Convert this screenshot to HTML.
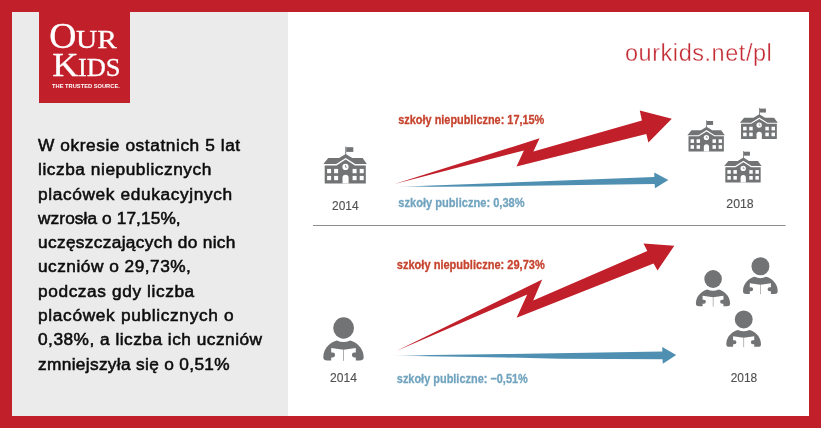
<!DOCTYPE html>
<html lang="pl">
<head>
<meta charset="utf-8">
<title>Our Kids – szkoły niepubliczne</title>
<style>
html,body{margin:0;padding:0;}
body{width:821px;height:428px;overflow:hidden;background:#c1202a;position:relative;font-family:"Liberation Sans",sans-serif;}
#left{position:absolute;left:12px;top:12px;width:276px;height:404px;background:#ebebeb;}
#right{position:absolute;left:288px;top:12px;width:521px;height:404px;background:#fff;}
#logo{position:absolute;left:39px;top:0;width:91px;height:103px;background:#c1202a;color:#fff;}
#logo .l1,#logo .l2{-webkit-text-stroke:0.3px #fff;position:absolute;white-space:nowrap;font-family:"Liberation Serif",serif;line-height:1;}
#logo .big{font-size:35.5px;display:inline-block;transform:scaleX(1.06);transform-origin:50% 100%;}
#logo .sm{font-size:24.5px;display:inline-block;transform-origin:0 100%;}
#logo .l1{left:11px;top:19.3px;}
#logo .l1 .sm{transform:scaleX(1.2);margin-left:0.5px;}
#logo .l2{left:13.8px;top:47.2px;}
#logo .l2 .big{font-size:34.4px;}
#logo .l2 .sm{font-size:25.4px;transform:scaleX(1.04);margin-left:0.3px;}
#logo .tag{position:absolute;left:13.3px;top:83.5px;font-size:6px;font-weight:bold;white-space:nowrap;line-height:1;transform:scale(0.955,0.88);transform-origin:0 0;}
#para{position:absolute;left:38px;top:133.1px;margin:0;font-size:17.3px;line-height:24.29px;color:#0c0c0c;white-space:nowrap;-webkit-text-stroke:0.55px #0c0c0c;}
#para .ln{display:block;width:max-content;}
#ln0{letter-spacing:0.58px}#ln1{letter-spacing:0.55px}#ln2{letter-spacing:0.63px}#ln3{letter-spacing:0.09px}#ln4{letter-spacing:0.33px}#ln5{letter-spacing:0.49px}#ln6{letter-spacing:0.60px}#ln7{letter-spacing:0.67px}#ln8{letter-spacing:0.49px}#ln9{letter-spacing:0.33px}
#url{-webkit-text-stroke:0.35px #fff;position:absolute;left:624.9px;top:41.6px;font-size:23.5px;letter-spacing:0.54px;line-height:1;color:#c32a33;white-space:nowrap;}
svg{position:absolute;left:0;top:0;}
body>*{will-change:transform;}
</style>
</head>
<body>
<div id="left"></div>
<div id="right"></div>
<div id="logo">
  <div class="l1"><span class="big">O</span><span class="sm">UR</span></div>
  <div class="l2"><span class="big">K</span><span class="sm">IDS</span></div>
  <div class="tag">THE TRUSTED SOURCE.</div>
</div>
<p id="para"><span class="ln" id="ln0">W okresie ostatnich 5 lat</span>
<span class="ln" id="ln1">liczba niepublicznych</span>
<span class="ln" id="ln2">placówek edukacyjnych</span>
<span class="ln" id="ln3">wzrosła o 17,15%,</span>
<span class="ln" id="ln4">uczęszczających do nich</span>
<span class="ln" id="ln5">uczniów o 29,73%,</span>
<span class="ln" id="ln6">podczas gdy liczba</span>
<span class="ln" id="ln7">placówek publicznych o</span>
<span class="ln" id="ln8">0,38%, a liczba ich uczniów</span>
<span class="ln" id="ln9">zmniejszyła się o 0,51%</span></p>
<div id="url">ourkids.net/pl</div>
<svg width="821" height="428" viewBox="0 0 821 428">
  <defs>
    <linearGradient id="bg1" x1="0" x2="1" y1="0" y2="0">
      <stop offset="0" stop-color="#4f90b2" stop-opacity="0.1"/>
      <stop offset="0.12" stop-color="#4f90b2"/>
    </linearGradient>
    <g id="school">
      <!-- 0..43.5 x 0..36.9 -->
      <rect x="21.9" y="0" width="0.9" height="8.5" fill="#727375"/>
      <rect x="22.8" y="0.7" width="7.1" height="4.7" fill="#727375"/>
      <path d="M0 17.5 L4.8 11.6 H15.7 L22.3 7.4 L28.9 11.6 H39.2 L43.5 17.500 H31.8 L22.3 11.4 L12.8 17.500 Z" fill="#727375"/>
      <path d="M1.3 18.9 H13.200 L22.3 13.1 L31.400 18.9 H42.400 V36.9 H1.3 Z" fill="#727375"/>
      <circle cx="22.1" cy="20.4" r="3.1" fill="#fff"/>
      <path d="M22.1 18.5 V20.7 H23.8" stroke="#727375" stroke-width="0.7" fill="none"/>
      <g fill="#fff">
        <rect x="3.7" y="22.4" width="4" height="4.3"/><rect x="10.7" y="22.4" width="4" height="4.3"/>
        <rect x="3.7" y="29.4" width="4" height="4.3"/><rect x="10.7" y="29.4" width="4" height="4.3"/>
        <rect x="29.2" y="22.4" width="4" height="4.3"/><rect x="36.3" y="22.4" width="4" height="4.3"/>
        <rect x="29.2" y="29.4" width="4" height="4.3"/><rect x="36.3" y="29.4" width="4" height="4.3"/>
        <path d="M19.1 37 V31.3 A3.050 3.050 0 0 1 25.2 31.3 V37 Z"/>
      </g>
    </g>
    <g id="person">
      <!-- 0..40.4 x 0..43.6 -->
      <ellipse cx="20.3" cy="10.7" rx="10.4" ry="10.7" fill="#727375"/>
      <path d="M13.6 23.100 C8 24.500 0 30 0 40 C0 42.500 1.500 43.200 4 43.200 H36.400 C38.900 43.200 40.400 42.500 40.400 40 C40.400 30 32.400 24.500 26.800 23.100 Q20.200 26.500 13.600 23.100 Z" fill="#727375"/>
      <path d="M7.9 30.600 L20.300 32.500 L32.500 30.600 V35.300 H31 A2.400 2.400 0 0 0 31 40.100 H32.500 V44 H7.900 V40.100 H9.400 A2.400 2.400 0 0 0 9.400 35.300 H7.900 Z" fill="#fff"/>
      <rect x="20" y="32.300" width="0.7" height="11.300" fill="#8a8b8d"/>
    </g>
  </defs>

  <!-- divider -->
  <rect x="313" y="225" width="472.500" height="1" fill="#8e8e8e"/>

  <!-- chart 1 -->
  <polygon fill="#c1202a" points="394.500,184.100 539.600,138.300 533.400,151.400 641.900,120.600 639.800,110.500 671.800,118.700 648.400,142.500 646.300,134 516.500,166.500 523.900,150.400"/>
  <polygon fill="url(#bg1)" points="398.900,186.700 654.300,177 654.300,172.500 668.300,180.100 655,188.200 654.600,183.900 480,186.500 398.900,186.900"/>
  <!-- chart 2 -->
  <polygon fill="#c1202a" points="396.300,351 542.200,279.500 533.200,300.600 647.300,251 643.500,243.600 674.300,245.700 657.500,270.600 653.600,263.600 516.600,317.700 527.200,294.500"/>
  <polygon fill="url(#bg1)" points="395.200,355.500 505,354.100 662.300,351.400 662.300,347 676.200,355.100 662.800,363.700 662.500,359.300 560,358.700 505,357.500 395.200,355.700"/>

  <!-- icons -->
  <use href="#school" transform="translate(323.4,146.5)"/>
  <use href="#school" transform="translate(687.4,120.4) scale(0.86,0.843)"/>
  <use href="#school" transform="translate(739.9,108) scale(0.871,0.838)"/>
  <use href="#school" transform="translate(724.2,151.1) scale(0.86,0.848)"/>

  <use href="#person" transform="translate(323.3,317.3)"/>
  <use href="#person" transform="translate(695.9,270) scale(0.847,0.84)"/>
  <use href="#person" transform="translate(743,257.2) scale(0.859,0.849)"/>
  <use href="#person" transform="translate(726.3,310.4) scale(0.859,0.844)"/>

  <!-- labels -->
  <g font-family="'Liberation Sans', sans-serif" font-weight="bold" font-size="13">
    <text x="398.300" y="124.400" fill="#c6432e" stroke="#c6432e" stroke-width="0.3" textLength="146" lengthAdjust="spacingAndGlyphs">szkoły niepubliczne: 17,15%</text>
    <text x="398.300" y="207.300" fill="#72a4bf" stroke="#72a4bf" stroke-width="0.3" textLength="126.300" lengthAdjust="spacingAndGlyphs">szkoły publiczne: 0,38%</text>
    <text x="396.800" y="268.800" fill="#c6432e" stroke="#c6432e" stroke-width="0.3" textLength="148" lengthAdjust="spacingAndGlyphs">szkoły niepubliczne: 29,73%</text>
    <text x="396.800" y="382.700" fill="#72a4bf" stroke="#72a4bf" stroke-width="0.3" textLength="131" lengthAdjust="spacingAndGlyphs">szkoły publiczne: −0,51%</text>
  </g>
  <g font-family="'Liberation Sans', sans-serif" font-size="13" fill="#505050" stroke="#505050" stroke-width="0.15">
    <text x="332.100" y="210.300" textLength="26.500" lengthAdjust="spacingAndGlyphs">2014</text>
    <text x="726.300" y="208.300" textLength="27.400" lengthAdjust="spacingAndGlyphs">2018</text>
    <text x="330.100" y="382.100" textLength="26.900" lengthAdjust="spacingAndGlyphs">2014</text>
    <text x="730.700" y="382.100" textLength="26.500" lengthAdjust="spacingAndGlyphs">2018</text>
  </g>
</svg>
</body>
</html>
